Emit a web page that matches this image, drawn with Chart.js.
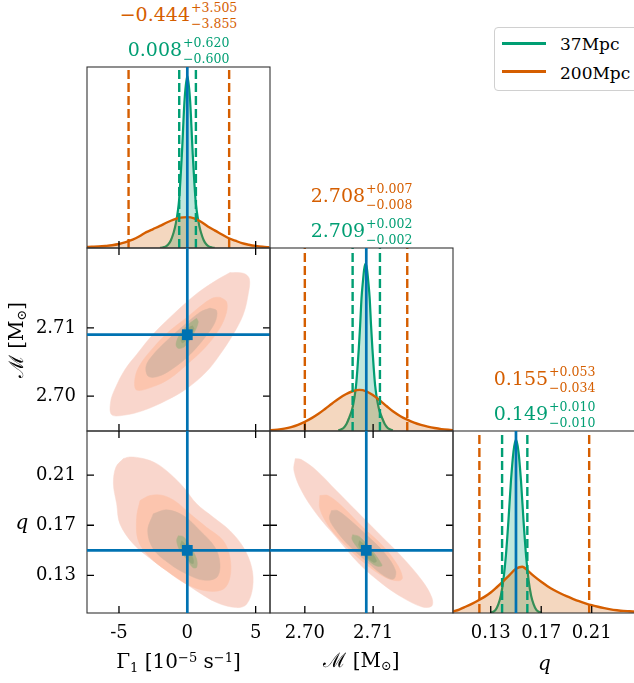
<!DOCTYPE html>
<html>
<head>
<meta charset="utf-8">
<title>corner plot</title>
<script src="https://cdn.jsdelivr.net/npm/chart.js@4.4.1/dist/chart.umd.min.js"></script>
<style>
  body { margin: 0; background: #fff; }
  #fig { position: relative; width: 634px; height: 683px; overflow: hidden; font-family: "DejaVu Serif", serif; color: #000; }
  #fig canvas { position: absolute; }
  .ttl { position: absolute; display: flex; align-items: center; white-space: nowrap; transform: translateX(-50%); }
  .ttl .m { font-size: 19px; line-height: 19px; }
  .ttl .ss { display: flex; flex-direction: column; font-size: 12.5px; line-height: 16px; margin-left: 1px; position: relative; top: 2px; }
  .lbl { position: absolute; white-space: nowrap; font-size: 20px; line-height: 24px; transform: translate(-50%, -50%); }
  .lbl.rot { transform: translate(-50%, -50%) rotate(-90deg); }
  .lbl sub { font-size: 0.65em; vertical-align: -0.3em; }
  .lbl sup { font-size: 0.65em; vertical-align: 0.5em; }
  #legend { position: absolute; left: 494px; top: 27px; width: 150px; height: 62px; border: 1px solid #d0d0d0; border-radius: 4px; background: #fff; font-size: 17px; }
  #legend .sw { position: absolute; left: 7px; width: 44px; height: 3px; }
  #legend .tx { position: absolute; left: 65px; }
</style>
</head>
<body>
<div id="fig">
  <div id="legend">
    <span class="sw" style="top:14px;background:#009E73"></span><span class="tx" style="top:6px">37Mpc</span>
    <span class="sw" style="top:42px;background:#D55E00"></span><span class="tx" style="top:35px">200Mpc</span>
  </div>
</div>
<script>
// colours of the two runs and the injected value
const green = '#009E73', orange = '#D55E00', blue = '#0072B2';
const greenFill = 'rgba(0,158,115,0.25)', orangeFill = 'rgba(213,94,0,0.25)';
const orangeLevels = ['#f9d6cc', '#fcc5ae', '#dcb6a3'];
const greenLevels = ['#b0b18a', '#98a67b'];

// parameters: Gamma_1, chirp mass, q
const axisMin = [-7.34, 2.6949, 0.1001];
const axisMax = [6.05, 2.7217, 0.2451];
const tickValues = [[-5, 0, 5], [2.70, 2.71], [0.13, 0.17, 0.21]];
const tickLabels = [['-5', '0', '5'], ['2.70', '2.71'], ['0.13', '0.17', '0.21']];
const truth = [0, 2.709, 0.15];

// quoted medians and errors
const median37 = [0.008, 2.709, 0.149], plus37 = [0.620, 0.002, 0.010], minus37 = [0.600, 0.002, 0.010];
const median200 = [-0.444, 2.708, 0.155], plus200 = [3.505, 0.007, 0.053], minus200 = [3.855, 0.008, 0.034];

// 1D marginals (peak of 37Mpc ~ 1)
const gammaX37 = [-2, -1.8, -1.6, -1.4, -1.2, -1, -0.9, -0.8, -0.7, -0.6, -0.4, -0.2, 0, 0.2, 0.4, 0.6, 0.7, 0.8, 0.9, 1, 1.2, 1.4, 1.6, 1.8, 2];
const gammaY37 = [0.001, 0.003, 0.008, 0.02, 0.045, 0.09, 0.12, 0.16, 0.21, 0.28, 0.54, 0.86, 1.0, 0.86, 0.54, 0.28, 0.21, 0.16, 0.12, 0.09, 0.045, 0.02, 0.008, 0.003, 0.001];
const gammaX200 = [-7.5, -7, -6.5, -6, -5.5, -5, -4.5, -4, -3.5, -3, -2.5, -2, -1.5, -1, -0.5, 0, 0.5, 1, 1.5, 2, 2.5, 3, 3.5, 4, 4.5, 5, 5.5, 6];
const gammaY200 = [0.005, 0.007, 0.009, 0.012, 0.016, 0.023, 0.034, 0.048, 0.068, 0.092, 0.11, 0.128, 0.148, 0.165, 0.176, 0.179, 0.172, 0.152, 0.125, 0.102, 0.08, 0.058, 0.043, 0.028, 0.019, 0.012, 0.007, 0.004];

const mcX37 = [2.7049, 2.7053, 2.7057, 2.7061, 2.7065, 2.7069, 2.7071, 2.7073, 2.7075, 2.7077, 2.7079, 2.7081, 2.7083, 2.7085, 2.7087, 2.7089,
  2.7091, 2.7093, 2.7095, 2.7097, 2.7099, 2.7101, 2.7103, 2.7105, 2.7107, 2.7109, 2.7113, 2.7117, 2.7121, 2.7125, 2.7129];
const mcY37 = [0.004, 0.009, 0.019, 0.04, 0.077, 0.12, 0.155, 0.2, 0.26, 0.355, 0.47, 0.605, 0.76, 0.855, 0.93, 0.96,
  0.93, 0.855, 0.76, 0.605, 0.47, 0.355, 0.26, 0.2, 0.155, 0.12, 0.077, 0.04, 0.019, 0.009, 0.004];
const mcX200 = [2.694, 2.695, 2.696, 2.697, 2.698, 2.699, 2.700, 2.701, 2.702, 2.703, 2.704, 2.705, 2.706, 2.707, 2.708,
  2.709, 2.710, 2.711, 2.712, 2.713, 2.714, 2.715, 2.716, 2.717, 2.718, 2.719, 2.720, 2.721, 2.722];
const mcY200 = [0.0025, 0.0046, 0.0081, 0.0138, 0.0224, 0.035, 0.053, 0.074, 0.099, 0.128, 0.158, 0.187, 0.211, 0.228, 0.236,
  0.228, 0.205, 0.175, 0.142, 0.11, 0.085, 0.065, 0.048, 0.035, 0.025, 0.017, 0.011, 0.007, 0.004];

const qX37 = [0.130, 0.132, 0.134, 0.136, 0.138, 0.140, 0.142, 0.144, 0.146, 0.148, 0.150, 0.152, 0.154, 0.156, 0.158, 0.160, 0.162, 0.164, 0.166, 0.168, 0.170];
const qY37 = [0.002, 0.007, 0.02, 0.05, 0.10, 0.19, 0.33, 0.53, 0.76, 0.93, 1.0, 0.93, 0.76, 0.53, 0.33, 0.19, 0.10, 0.05, 0.02, 0.007, 0.002];
const qX200 = [0.100, 0.105, 0.110, 0.115, 0.120, 0.125, 0.130, 0.135, 0.140, 0.145, 0.150, 0.155, 0.160, 0.165, 0.170,
  0.175, 0.180, 0.185, 0.190, 0.195, 0.200, 0.205, 0.210, 0.215, 0.220, 0.225, 0.230, 0.235, 0.240, 0.245];
const qY200 = [0.008, 0.02, 0.036, 0.053, 0.072, 0.093, 0.118, 0.15, 0.184, 0.22, 0.255, 0.267, 0.24, 0.208, 0.18,
  0.155, 0.133, 0.114, 0.097, 0.082, 0.068, 0.056, 0.045, 0.036, 0.028, 0.021, 0.016, 0.012, 0.010, 0.008];

// 2D credible contours, [x, y] pairs, outer to inner
const gammaMc200 = [
  [[3.12, 2.7181], [4.10, 2.7180], [4.54, 2.7172], [4.46, 2.7150], [4.10, 2.7120], [3.37, 2.7091], [2.39, 2.7061], [1.41, 2.7036], [-0.05, 2.7011], [-1.51, 2.6994], [-3.22, 2.6979],
   [-4.68, 2.6972], [-5.54, 2.6973], [-5.61, 2.6992], [-5.29, 2.7011], [-4.56, 2.7039], [-3.71, 2.7061], [-2.49, 2.7091], [-1.02, 2.7120], [0.68, 2.7150], [2.15, 2.7170]],
  [[2.39, 2.7145], [2.88, 2.7138], [2.83, 2.7120], [2.27, 2.7096], [1.29, 2.7071], [-0.05, 2.7046], [-1.27, 2.7026], [-2.49, 2.7014], [-3.71, 2.7009], [-3.83, 2.7026],
   [-3.46, 2.7046], [-2.49, 2.7071], [-1.27, 2.7096], [-0.05, 2.7115], [1.17, 2.7135], [1.90, 2.7144]],
  [[1.66, 2.7129], [2.15, 2.7125], [2.02, 2.7108], [1.29, 2.7086], [0.20, 2.7061], [-1.02, 2.7041], [-2.12, 2.7029], [-2.85, 2.7029], [-3.02, 2.7044], [-2.49, 2.7061],
   [-1.51, 2.7081], [-0.29, 2.7103], [0.93, 2.7123]]
];
const gammaMc37 = [
  [[0.68, 2.7114], [0.80, 2.7108], [0.44, 2.7091], [-0.17, 2.7073], [-0.66, 2.7070], [-0.83, 2.7076], [-0.54, 2.7091], [0.07, 2.7105]],
  [[0.39, 2.7103], [0.49, 2.7098], [0.07, 2.7086], [-0.34, 2.7078], [-0.46, 2.7082], [-0.24, 2.7092], [0.15, 2.7101]]
];
const gammaQ200 = [
  [[-4.68, 0.2231], [-4.20, 0.2244], [-3.22, 0.2231], [-2.24, 0.2191], [-1.27, 0.2111], [-0.29, 0.2004], [0.68, 0.1871], [1.90, 0.1764], [3.12, 0.1657], [4.10, 0.1524], [4.71, 0.1364],
   [4.78, 0.1204], [4.34, 0.1071], [3.61, 0.1044], [2.15, 0.1084], [0.68, 0.1177], [-0.78, 0.1284], [-2.49, 0.1417], [-3.95, 0.1551], [-4.93, 0.1711], [-5.17, 0.1871], [-5.41, 0.2031], [-5.22, 0.2164]],
  [[-3.46, 0.1897], [-2.73, 0.1937], [-1.76, 0.1937], [-0.78, 0.1884], [0.20, 0.1791], [1.41, 0.1684], [2.63, 0.1577], [3.12, 0.1444], [3.12, 0.1284], [2.63, 0.1191], [1.41, 0.1177],
   [-0.05, 0.1231], [-1.51, 0.1337], [-2.73, 0.1444], [-3.59, 0.1577], [-3.71, 0.1764]],
  [[-2.49, 0.1791], [-1.51, 0.1823], [-0.29, 0.1777], [0.93, 0.1657], [2.02, 0.1524], [2.39, 0.1391], [2.15, 0.1284], [1.17, 0.1263], [-0.05, 0.1311], [-1.27, 0.1391], [-2.49, 0.1511], [-2.90, 0.1657]]
];
const gammaQ37 = [
  [[-0.66, 0.1617], [-0.29, 0.1609], [0.20, 0.1537], [0.68, 0.1431], [0.68, 0.1364], [0.39, 0.1364], [-0.05, 0.1431], [-0.54, 0.1497], [-0.78, 0.1577]],
  [[-0.41, 0.1577], [-0.05, 0.1537], [0.39, 0.1444], [0.44, 0.1396], [0.20, 0.1404], [-0.17, 0.1471], [-0.49, 0.1537]]
];
const mcQ200 = [
  [[2.6986, 0.2231], [2.6995, 0.2223], [2.7017, 0.2137], [2.7046, 0.1977], [2.7075, 0.1817], [2.7109, 0.1631], [2.7143, 0.1444], [2.7172, 0.1257], [2.7186, 0.1124], [2.7186, 0.1057],
   [2.7172, 0.1049], [2.7143, 0.1124], [2.7114, 0.1231], [2.7080, 0.1391], [2.7046, 0.1604], [2.7017, 0.1791], [2.6995, 0.1977], [2.6984, 0.2137]],
  [[2.7022, 0.1937], [2.7034, 0.1937], [2.7056, 0.1844], [2.7085, 0.1684], [2.7114, 0.1537], [2.7135, 0.1391], [2.7143, 0.1284], [2.7138, 0.1257], [2.7118, 0.1284], [2.7089, 0.1391],
   [2.7060, 0.1537], [2.7036, 0.1684], [2.7022, 0.1831]],
  [[2.7039, 0.1817], [2.7048, 0.1817], [2.7070, 0.1724], [2.7094, 0.1604], [2.7118, 0.1471], [2.7133, 0.1337], [2.7130, 0.1271], [2.7116, 0.1297], [2.7092, 0.1404], [2.7065, 0.1537],
   [2.7046, 0.1657], [2.7036, 0.1751]]
];
const mcQ37 = [
  [[2.7070, 0.1625], [2.7080, 0.1609], [2.7099, 0.1497], [2.7111, 0.1404], [2.7113, 0.1377], [2.7104, 0.1377], [2.7089, 0.1444], [2.7075, 0.1537], [2.7069, 0.1591]],
  [[2.7080, 0.1577], [2.7094, 0.1511], [2.7105, 0.1417], [2.7101, 0.1404], [2.7089, 0.1457], [2.7079, 0.1537]]
];

const xs37 = [gammaX37, mcX37, qX37], ys37 = [gammaY37, mcY37, qY37];
const xs200 = [gammaX200, mcX200, qX200], ys200 = [gammaY200, mcY200, qY200];
const contours200 = { '0-1': gammaMc200, '0-2': gammaQ200, '1-2': mcQ200 };
const contours37 = { '0-1': gammaMc37, '0-2': gammaQ37, '1-2': mcQ37 };

// panel geometry
const colX = [87, 270, 453], colW = 183;
const rowY = [67, 248, 431], rowH = [181, 183, 182];
const yTop1D = 1.05;
const tickFont = { family: 'DejaVu Serif', size: 18 };

const fig = document.getElementById('fig');

// box and inward tick marks, drawn just before the truth lines
function drawFrame(chart, sides) {
  chart.$framed = true;
  const { ctx, chartArea: a, scales } = chart;
  ctx.save();
  ctx.strokeStyle = '#333';
  ctx.lineWidth = 1.1;
  ctx.strokeRect(a.left, a.top, a.right - a.left, a.bottom - a.top);
  ctx.strokeStyle = '#000';
  ctx.lineWidth = 1.3;
  ctx.beginPath();
  const len = 7;
  scales.x.ticks.forEach(t => {
    const px = scales.x.getPixelForValue(t.value);
    if (sides.includes('bottom')) { ctx.moveTo(px, a.bottom); ctx.lineTo(px, a.bottom - len); }
    if (sides.includes('top')) { ctx.moveTo(px, a.top); ctx.lineTo(px, a.top + len); }
  });
  scales.y.ticks.forEach(t => {
    const py = scales.y.getPixelForValue(t.value);
    if (sides.includes('left')) { ctx.moveTo(a.left, py); ctx.lineTo(a.left + len, py); }
    if (sides.includes('right')) { ctx.moveTo(a.right, py); ctx.lineTo(a.right - len, py); }
  });
  ctx.stroke();
  ctx.restore();
}

const frameTicks = {
  id: 'frameTicks',
  beforeDraw(chart) { chart.$framed = false; },
  beforeDatasetDraw(chart, args, opts) {
    if (!chart.$framed && chart.data.datasets[args.index].truthLine) drawFrame(chart, opts.sides);
  },
  afterDatasetsDraw(chart, args, opts) {
    if (!chart.$framed) drawFrame(chart, opts.sides);
  }
};

// keep the plot box exactly where the panel grid wants it
function fixSize(s, prop, size) {
  s[prop] = size;
  s.paddingTop = 0; s.paddingBottom = 0; s.paddingLeft = 0; s.paddingRight = 0;
}

function toPoints(xs, ys) {
  return xs.map((x, i) => ({ x: x, y: ys[i] }));
}

function closed(pairs) {
  const pts = pairs.map(p => ({ x: p[0], y: p[1] }));
  pts.push(pts[0]);
  return pts;
}

function vline(x, y0, y1, color, width, dash, order, isTruth) {
  return {
    data: [{ x: x, y: y0 }, { x: x, y: y1 }],
    borderColor: color, borderWidth: width, borderDash: dash || [],
    pointRadius: 0, fill: false, order: order, truthLine: !!isTruth
  };
}

function makePanel(r, c) {
  const is1D = r === c;
  const padL = (c === 0 && r > 0) ? 80 : 0;
  const padB = (r === 2) ? 50 : 0;
  const leftPad = padL ? 0 : 3, bottomPad = padB ? 0 : 3;
  const w = padL + leftPad + colW + 3;
  const h = 3 + rowH[r] + padB + bottomPad;

  const cv = document.createElement('canvas');
  cv.width = w; cv.height = h;
  cv.style.left = (colX[c] - padL - leftPad) + 'px';
  cv.style.top = (rowY[r] - 3) + 'px';
  cv.style.width = w + 'px'; cv.style.height = h + 'px';
  fig.appendChild(cv);

  const yMin = is1D ? 0 : axisMin[r];
  const yMax = is1D ? yTop1D : axisMax[r];
  const datasets = [];

  if (is1D) {
    datasets.push({
      data: toPoints(xs37[c], ys37[c]), borderColor: green, backgroundColor: greenFill,
      borderWidth: 2.2, fill: 'origin', pointRadius: 0, cubicInterpolationMode: 'monotone', order: 6
    });
    datasets.push({
      data: toPoints(xs200[c], ys200[c]), borderColor: orange, backgroundColor: orangeFill,
      borderWidth: 2.4, fill: 'origin', pointRadius: 0, cubicInterpolationMode: 'monotone', order: 5
    });
    datasets.push(vline(median37[c] - minus37[c], 0, yTop1D, green, 2.4, [9, 4], 4));
    datasets.push(vline(median37[c] + plus37[c], 0, yTop1D, green, 2.4, [9, 4], 4));
    datasets.push(vline(median200[c] - minus200[c], 0, yTop1D, orange, 2.4, [9, 4], 3));
    datasets.push(vline(median200[c] + plus200[c], 0, yTop1D, orange, 2.4, [9, 4], 3));
    datasets.push(vline(truth[c], 0, yTop1D, blue, 2.7, [], 1, true));
  } else {
    const key = c + '-' + r;
    contours200[key].forEach((lev, i) => {
      datasets.push({
        data: closed(lev), borderColor: orangeLevels[i], backgroundColor: orangeLevels[i], borderWidth: 0.5,
        fill: 'shape', pointRadius: 0, tension: 0.35, order: 20 - i
      });
    });
    contours37[key].forEach((lev, i) => {
      datasets.push({
        data: closed(lev), borderColor: greenLevels[i], backgroundColor: greenLevels[i], borderWidth: 0.5,
        fill: 'shape', pointRadius: 0, tension: 0.35, order: 10 - i
      });
    });
    datasets.push(vline(truth[c], yMin, yMax, blue, 2.7, [], 3, true));
    datasets.push({
      data: [{ x: axisMin[c], y: truth[r] }, { x: axisMax[c], y: truth[r] }],
      borderColor: blue, borderWidth: 2.7, pointRadius: 0, fill: false, order: 2, truthLine: true
    });
    datasets.push({
      data: [{ x: truth[c], y: truth[r] }], showLine: false, pointStyle: 'rect',
      pointRadius: 7.6, pointBackgroundColor: blue, pointBorderColor: blue, pointBorderWidth: 0, order: 1
    });
  }

  const sides = is1D ? ['bottom'] : ['left', 'right', 'top', 'bottom'];
  new Chart(cv, {
    type: 'line',
    data: { datasets: datasets },
    options: {
      responsive: false, animation: false, devicePixelRatio: 1,
      layout: { autoPadding: false, padding: { left: leftPad, right: 3, top: 3, bottom: bottomPad } },
      plugins: { legend: { display: false }, tooltip: { enabled: false }, frameTicks: { sides: sides } },
      scales: {
        x: {
          type: 'linear', min: axisMin[c], max: axisMax[c],
          afterBuildTicks: s => { s.ticks = tickValues[c].map(v => ({ value: v })); },
          afterFit: s => fixSize(s, 'height', padB),
          grid: { display: false, drawTicks: false }, border: { display: false },
          ticks: {
            display: padB > 0, autoSkip: false, maxRotation: 0, padding: 10,
            font: tickFont, color: '#000', callback: (v, i) => tickLabels[c][i]
          }
        },
        y: {
          type: 'linear', min: yMin, max: yMax,
          afterBuildTicks: s => { s.ticks = is1D ? [] : tickValues[r].map(v => ({ value: v })); },
          afterFit: s => fixSize(s, 'width', padL),
          grid: { display: false, drawTicks: false }, border: { display: false },
          ticks: {
            display: padL > 0, autoSkip: false, padding: 11,
            font: tickFont, color: '#000', callback: (v, i) => is1D ? '' : tickLabels[r][i]
          }
        }
      }
    },
    plugins: [frameTicks]
  });
}

for (let r = 0; r < 3; r++) {
  for (let c = 0; c <= r; c++) makePanel(r, c);
}

// titles above the diagonal panels
function fmt(v) { return (v < 0 ? '\u2212' : '') + Math.abs(v).toFixed(3); }
function addTitle(i, med, plus, minus, color, top) {
  const d = document.createElement('div');
  d.className = 'ttl';
  d.style.left = (colX[i] + colW / 2) + 'px';
  d.style.top = top + 'px';
  d.style.color = color;
  d.innerHTML = '<span class="m">' + fmt(med) + '</span><span class="ss"><span>+' + plus.toFixed(3) +
    '</span><span>\u2212' + minus.toFixed(3) + '</span></span>';
  fig.appendChild(d);
}
for (let i = 0; i < 3; i++) {
  addTitle(i, median200[i], plus200[i], minus200[i], orange, rowY[i] - 69);
  addTitle(i, median37[i], plus37[i], minus37[i], green, rowY[i] - 34);
}

// axis labels
const xAxisLabels = ['\u0393<sub>1</sub> [10<sup>\u22125</sup> s<sup>\u22121</sup>]', '\u2133 [M<sub>\u2299</sub>]', '<i>q</i>'];
const yAxisLabels = ['', '\u2133 [M<sub>\u2299</sub>]', '<i>q</i>'];
function addLabel(html, x, y, rot) {
  const d = document.createElement('div');
  d.className = rot ? 'lbl rot' : 'lbl';
  d.style.left = x + 'px';
  d.style.top = y + 'px';
  d.innerHTML = html;
  fig.appendChild(d);
}
xAxisLabels.forEach((t, i) => addLabel(t, colX[i] + colW / 2, 663, false));
addLabel(yAxisLabels[1], 19, rowY[1] + rowH[1] / 2, true);
addLabel(yAxisLabels[2], 22, rowY[2] + rowH[2] / 2, false);
</script>
</body>
</html>
